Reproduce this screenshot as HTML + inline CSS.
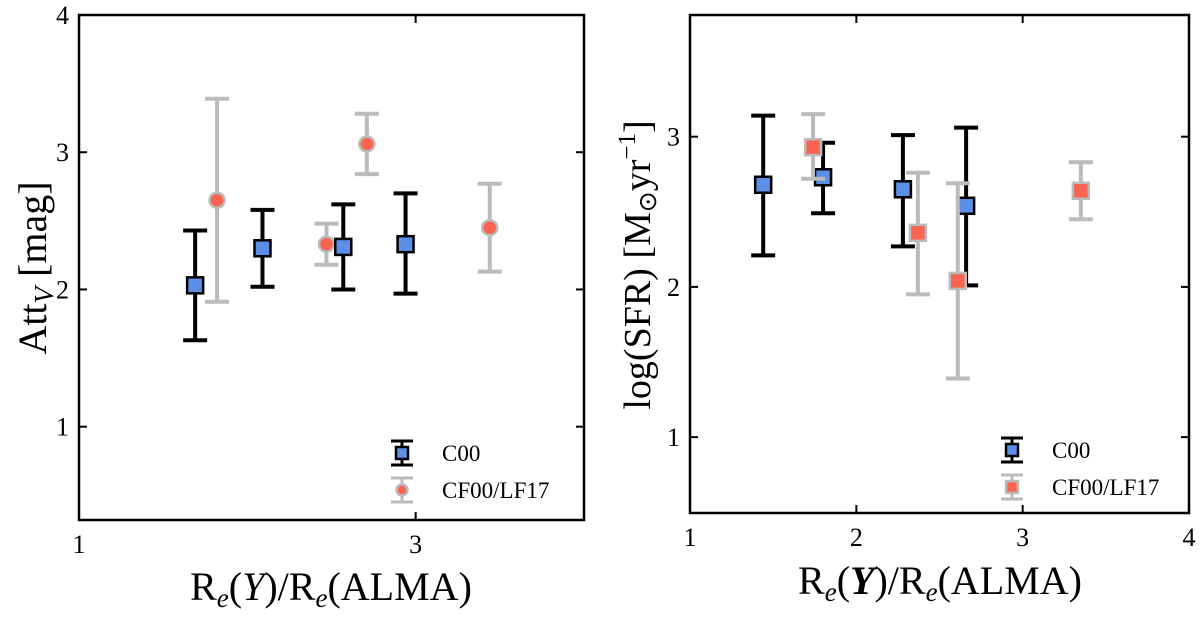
<!DOCTYPE html>
<html><head><meta charset="utf-8"><style>
body{margin:0;background:#fff;}
svg text{font-family:"Liberation Serif",serif;fill:#000;}
</style></head><body>
<svg id="c" width="1200" height="613" xmlns="http://www.w3.org/2000/svg"></svg>
<script>
const leftC00X=[1.69,2.09,2.57,2.94];
const leftC00Y=[2.03,2.30,2.31,2.33];
const leftC00Lo=[1.63,2.02,2.00,1.97];
const leftC00Hi=[2.43,2.58,2.62,2.70];
const leftCFX=[1.82,2.47,2.71,3.44];
const leftCFY=[2.65,2.33,3.06,2.45];
const leftCFLo=[1.91,2.18,2.84,2.13];
const leftCFHi=[3.39,2.48,3.28,2.77];
const rightC00X=[1.44,1.80,2.28,2.66];
const rightC00Y=[2.68,2.73,2.65,2.54];
const rightC00Lo=[2.21,2.49,2.27,2.01];
const rightC00Hi=[3.14,2.96,3.01,3.06];
const rightCFX=[1.74,2.37,2.61,3.35];
const rightCFY=[2.93,2.36,2.04,2.64];
const rightCFLo=[2.72,1.95,1.39,2.45];
const rightCFHi=[3.15,2.76,2.69,2.83];
const leftXTicks=[1,3];
const leftYTicks=[1,2,3,4];
const rightXTicks=[1,2,3,4];
const rightYTicks=[1,2,3];

const svg=document.getElementById('c');
const NS='http://www.w3.org/2000/svg';
function mk(t,a,p){const e=document.createElementNS(NS,t);for(const k in a)e.setAttribute(k,a[k]);(p||svg).appendChild(e);return e;}

function panel(name,box,xr,yr,xt,yt){
  const g=mk('g',{});
  
  
  const sx=v=>box.x0+(v-xr[0])/(xr[1]-xr[0])*(box.x1-box.x0);
  const sy=v=>box.y1-(v-yr[0])/(yr[1]-yr[0])*(box.y1-box.y0);
  xt.forEach(v=>{const x=sx(v);
    mk('line',{x1:x,x2:x,y1:box.y1,y2:box.y1-8,stroke:'#000','stroke-width':2},g);
    mk('line',{x1:x,x2:x,y1:box.y0,y2:box.y0+8,stroke:'#000','stroke-width':2},g);
    const t=mk('text',{x:x,y:box.y1+33,'text-anchor':'middle','font-size':26},g);t.textContent=v;
    
    });
  yt.forEach(v=>{const y=sy(v);
    mk('line',{x1:box.x0,x2:box.x0+8,y1:y,y2:y,stroke:'#000','stroke-width':2},g);
    mk('line',{x1:box.x1,x2:box.x1-8,y1:y,y2:y,stroke:'#000','stroke-width':2},g);
    const t=mk('text',{x:box.x0-10,y:y+9,'text-anchor':'end','font-size':26},g);t.textContent=v;
    
    });
  mk('rect',{x:box.x0,y:box.y0,width:box.x1-box.x0,height:box.y1-box.y0,fill:'none',stroke:'#000','stroke-width':2.5},g);
  return {g,sx,sy};
}
function errs(P,X,Y,Lo,Hi,col,marker,fill,mcol,name){
  X.forEach((xv,i)=>{const x=P.sx(xv);
    const e=mk('g',{},P.g);
    
    
    const y1=P.sy(Lo[i]),y2=P.sy(Hi[i]),y=P.sy(Y[i]);
    mk('line',{x1:x,x2:x,y1:y1,y2:y2,stroke:col,'stroke-width':4},e);
    mk('line',{x1:x-12,x2:x+12,y1:y1,y2:y1,stroke:col,'stroke-width':4},e);
    mk('line',{x1:x-12,x2:x+12,y1:y2,y2:y2,stroke:col,'stroke-width':4},e);
    if(marker==='sq')mk('rect',{x:x-8,y:y-8,width:16,height:16,fill:fill,stroke:mcol,'stroke-width':2.5},e);
    else mk('circle',{cx:x,cy:y,r:7.5,fill:fill,stroke:mcol,'stroke-width':2.5},e);
  });
}
function legend(P,x,y,items){
  items.forEach((it,i)=>{const yy=y+i*37;
    const e=mk('g',{},P.g);
    
    
    mk('line',{x1:x,x2:x,y1:yy-12,y2:yy+12,stroke:it.col,'stroke-width':3},e);
    mk('line',{x1:x-11,x2:x+11,y1:yy-12,y2:yy-12,stroke:it.col,'stroke-width':3},e);
    mk('line',{x1:x-11,x2:x+11,y1:yy+12,y2:yy+12,stroke:it.col,'stroke-width':3},e);
    if(it.m==='sq')mk('rect',{x:x-6,y:yy-6,width:12,height:12,fill:it.fill,stroke:it.mcol,'stroke-width':2.5},e);
    else mk('circle',{cx:x,cy:yy,r:5.5,fill:it.fill,stroke:it.mcol,'stroke-width':2.5},e);
    const t=mk('text',{x:x+40,y:yy+8,'font-size':23},e);t.textContent=it.label;});
}
const L=panel('left-panel',{x0:79,x1:584,y0:15,y1:520},[1,4],[0.32,4],leftXTicks,leftYTicks);
errs(L,leftCFX,leftCFY,leftCFLo,leftCFHi,'#bbbbbb','ci','#fa6450','#bbbbbb','point-cf00');
errs(L,leftC00X,leftC00Y,leftC00Lo,leftC00Hi,'#000','sq','#5b8fe8','#000','point-c00');
legend(L,402,453,[{col:'#000',m:'sq',fill:'#5b8fe8',mcol:'#000',label:'C00'},{col:'#bbbbbb',m:'ci',fill:'#fa6450',mcol:'#bbbbbb',label:'CF00/LF17'}]);
const R=panel('right-panel',{x0:690,x1:1189,y0:15,y1:513},[1,4],[0.495,3.81],rightXTicks,rightYTicks);
errs(R,rightC00X,rightC00Y,rightC00Lo,rightC00Hi,'#000','sq','#5b8fe8','#000','point-c00');
errs(R,rightCFX,rightCFY,rightCFLo,rightCFHi,'#bbbbbb','sq','#fa6450','#bbbbbb','point-cf00');
legend(R,1012,450,[{col:'#000',m:'sq',fill:'#5b8fe8',mcol:'#000',label:'C00'},{col:'#bbbbbb',m:'sq',fill:'#fa6450',mcol:'#bbbbbb',label:'CF00/LF17'}]);
</script>
<svg width="1200" height="613" style="position:absolute;left:0;top:0" xmlns="http://www.w3.org/2000/svg">
<text x="331" y="600" text-anchor="middle" font-size="40">R<tspan font-size="27" font-style="italic" dy="7">e</tspan><tspan dy="-7">(</tspan><tspan font-style="italic">Y</tspan>)/R<tspan font-size="27" font-style="italic" dy="7">e</tspan><tspan dy="-7">(ALMA)</tspan></text>
<text x="940" y="594" text-anchor="middle" font-size="40">R<tspan font-size="27" font-style="italic" dy="7">e</tspan><tspan dy="-7">(</tspan><tspan font-style="italic" font-weight="bold">Y</tspan>)/R<tspan font-size="27" font-style="italic" dy="7">e</tspan><tspan dy="-7">(ALMA)</tspan></text>
<text transform="translate(46,268) rotate(-90)" text-anchor="middle" font-size="40">Att<tspan font-size="27" font-style="italic" dy="7">V</tspan><tspan dy="-7"> [mag]</tspan></text>
<text transform="translate(650,265) rotate(-90)" text-anchor="middle" font-size="38">log(SFR) [M<tspan font-size="25" dy="6">⊙</tspan><tspan dy="-6">yr</tspan><tspan font-size="25" dy="-15">−1</tspan><tspan dy="15">]</tspan></text>
</svg>
</body></html>
